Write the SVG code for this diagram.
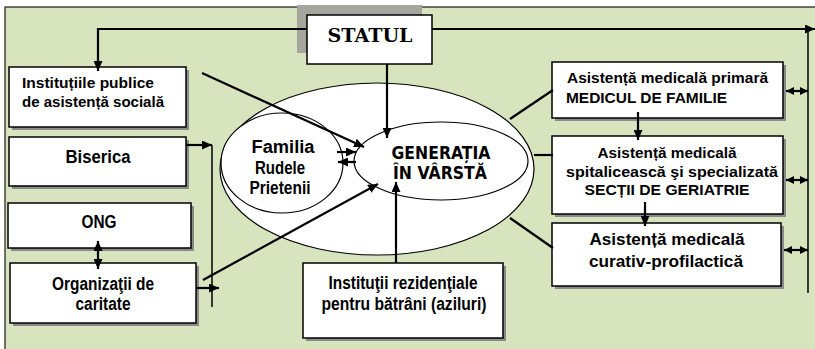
<svg xmlns="http://www.w3.org/2000/svg" width="815" height="349" viewBox="0 0 815 349">
<style>
.box{fill:#fff;stroke:#000;stroke-width:1.5}
.sh{fill:#8a8a8a}
.ell{fill:#fff;stroke:#000;stroke-width:1.2}
.ln{fill:none;stroke:#000;stroke-width:2.2}
.t{font-family:"Liberation Sans",Arial,sans-serif;font-weight:bold;font-size:15px;fill:#000}
.n{font-family:"Liberation Sans",Arial,sans-serif;font-weight:bold;font-size:17.5px;fill:#000}
.g{font-family:"DejaVu Sans",Verdana,sans-serif;font-weight:bold;font-size:18px;fill:#000}
.s{font-family:"DejaVu Serif","Liberation Serif",serif;font-weight:bold;font-size:18.5px;fill:#000}
</style>
<defs>
<marker id="ah" markerUnits="userSpaceOnUse" markerWidth="10" markerHeight="9" refX="10" refY="4.5" orient="auto-start-reverse"><path d="M0,0 L10,4.5 L0,9 z" fill="#000"/></marker>
<marker id="sm" markerUnits="userSpaceOnUse" markerWidth="8" markerHeight="8" refX="8" refY="4" orient="auto-start-reverse"><path d="M0,0 L8,4 L0,8 z" fill="#000"/></marker>
</defs>
<rect x="5" y="7" width="820" height="350" fill="#D7E4BD" stroke="#1a1a1a" stroke-width="1.2"/>

<g id="ellipse-outer"><ellipse class="ell" cx="377" cy="169" rx="157" ry="86"/></g>
<g id="familia">
<ellipse class="ell" cx="282" cy="163" rx="61" ry="50"/>
<text class="n" x="283" y="153" text-anchor="middle" textLength="63" lengthAdjust="spacingAndGlyphs">Familia</text>
<text class="n" x="280" y="174" text-anchor="middle" textLength="50" lengthAdjust="spacingAndGlyphs">Rudele</text>
<text class="n" x="280" y="194" text-anchor="middle" textLength="61" lengthAdjust="spacingAndGlyphs">Prietenii</text>
</g>
<g id="generatia">
<ellipse class="ell" cx="441" cy="161" rx="87" ry="39"/>
<text class="g" x="441" y="159" text-anchor="middle" textLength="99" lengthAdjust="spacingAndGlyphs">GENERAȚIA</text>
<text class="g" x="440" y="179" text-anchor="middle" textLength="94" lengthAdjust="spacingAndGlyphs">ÎN VÂRSTĂ</text>
</g>

<g id="statul">
<rect class="sh" style="fill:#A5A69E" x="297" y="5" width="125" height="48"/>
<rect class="box" x="307" y="15" width="125" height="49"/>
<text class="s" x="370" y="42" text-anchor="middle" textLength="85" lengthAdjust="spacingAndGlyphs">STATUL</text>
</g>

<g id="institutiile-publice">
<rect class="sh" x="12" y="70" width="177" height="60"/>
<rect class="box" x="9" y="67" width="177" height="60"/>
<text class="t" x="22" y="88" textLength="132" lengthAdjust="spacingAndGlyphs">Instituțiile publice</text>
<text class="t" x="22" y="107" textLength="142" lengthAdjust="spacingAndGlyphs">de asistență socială</text>
</g>
<g id="biserica">
<rect class="sh" x="12" y="140" width="177" height="49"/>
<rect class="box" x="9" y="137" width="177" height="49"/>
<text class="n" x="98" y="163" text-anchor="middle" textLength="65" lengthAdjust="spacingAndGlyphs">Biserica</text>
</g>
<g id="ong">
<rect class="sh" x="11" y="206" width="183" height="45"/>
<rect class="box" x="8" y="203" width="183" height="45"/>
<text class="n" x="99" y="228" text-anchor="middle" textLength="35" lengthAdjust="spacingAndGlyphs">ONG</text>
</g>
<g id="organizatii">
<rect class="sh" x="13" y="266" width="186" height="60"/>
<rect class="box" x="10" y="263" width="186" height="60"/>
<text class="n" x="103" y="290" text-anchor="middle" textLength="102" lengthAdjust="spacingAndGlyphs">Organizaţii de</text>
<text class="n" x="103" y="310" text-anchor="middle" textLength="55" lengthAdjust="spacingAndGlyphs">caritate</text>
</g>
<g id="institutii-rezidentiale">
<rect class="sh" x="306" y="266" width="200" height="75"/>
<rect class="box" x="303" y="263" width="200" height="75"/>
<text class="n" x="403" y="289" text-anchor="middle" textLength="149" lengthAdjust="spacingAndGlyphs">Instituţii rezidenţiale</text>
<text class="n" x="404" y="310" text-anchor="middle" textLength="165" lengthAdjust="spacingAndGlyphs">pentru bătrâni (aziluri)</text>
</g>
<g id="medicala-primara">
<rect class="sh" x="555" y="65" width="231" height="56"/>
<rect class="box" x="552" y="62" width="231" height="56"/>
<text class="t" x="567" y="83" textLength="201" lengthAdjust="spacingAndGlyphs">Asistență medicală primară</text>
<text class="t" x="566" y="103" textLength="161" lengthAdjust="spacingAndGlyphs">MEDICUL DE FAMILIE</text>
</g>
<g id="medicala-spitaliceasca">
<rect class="sh" x="555" y="139" width="231" height="78"/>
<rect class="box" x="552" y="136" width="231" height="78"/>
<text class="t" x="667" y="158" text-anchor="middle" textLength="139" lengthAdjust="spacingAndGlyphs">Asistență medicală</text>
<text class="t" x="672" y="177" text-anchor="middle" textLength="212" lengthAdjust="spacingAndGlyphs">spitalicească şi specializată</text>
<text class="t" x="667" y="195" text-anchor="middle" textLength="165" lengthAdjust="spacingAndGlyphs">SECȚII DE GERIATRIE</text>
</g>
<g id="medicala-curativ">
<rect class="sh" x="555" y="226" width="229" height="63"/>
<rect class="box" x="552" y="223" width="229" height="63"/>
<text class="t" style="font-size:16px" x="667" y="245" text-anchor="middle" textLength="155" lengthAdjust="spacingAndGlyphs">Asistență medicală</text>
<text class="t" style="font-size:16px" x="666" y="267" text-anchor="middle" textLength="154" lengthAdjust="spacingAndGlyphs">curativ-profilactică</text>
</g>

<g id="connectors">
<path class="ln" d="M307,29 H98 V71" marker-end="url(#ah)"/>
<path class="ln" d="M432,29 H815" marker-end="url(#ah)"/>
<path class="ln" d="M808,29 V293" style="stroke-width:1.5"/>
<path class="ln" d="M387,64 V138" marker-end="url(#ah)"/>
<path class="ln" d="M202,73 L364,147" marker-end="url(#ah)"/>
<path class="ln" d="M186,145 H212" marker-end="url(#ah)"/>
<path class="ln" d="M212,145 V307" style="stroke-width:1.5"/>
<path class="ln" d="M196,288 H219" marker-end="url(#ah)"/>
<path class="ln" d="M203,280 L378,184" marker-end="url(#ah)"/>
<path class="ln" d="M98,241 V269" marker-start="url(#ah)" marker-end="url(#ah)"/>
<path class="ln" d="M396,263 V182" marker-end="url(#ah)"/>
<path class="ln" d="M337,152 H356" marker-end="url(#ah)"/>
<path class="ln" d="M356,162 H338" marker-end="url(#ah)"/>
<path class="ln" d="M510,119 L553,90"/>
<path class="ln" d="M534,155 H553"/>
<path class="ln" d="M510,218 L553,248"/>
<path class="ln" d="M638,112 V140" marker-end="url(#ah)"/>
<path class="ln" d="M645,202 V226" marker-end="url(#ah)"/>
<path class="ln" d="M786,91 H808" marker-start="url(#sm)" marker-end="url(#sm)"/>
<path class="ln" d="M786,180 H808" marker-start="url(#sm)" marker-end="url(#sm)"/>
<path class="ln" d="M784,250 H808" marker-start="url(#sm)" marker-end="url(#sm)"/>
</g>
</svg>
